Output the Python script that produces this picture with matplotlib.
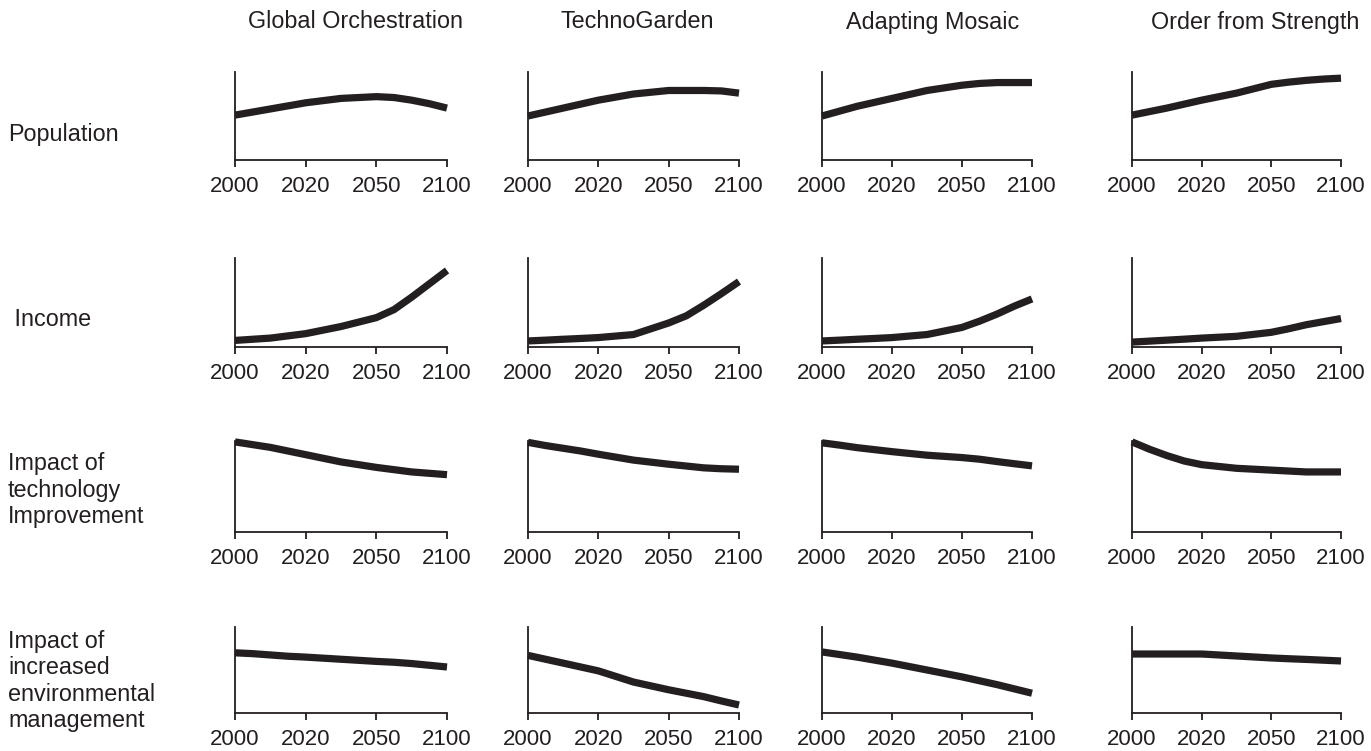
import matplotlib
matplotlib.use("Agg")
import matplotlib.pyplot as plt

# ---- data ----
scenarios = ["Global Orchestration", "TechnoGarden", "Adapting Mosaic", "Order from Strength"]
row_labels = ["Population", " Income", "Impact of\ntechnology\nImprovement",
              "Impact of\nincreased\nenvironmental\nmanagement"]
tick_labels = ["2000", "2020", "2050", "2100"]
tick_pos = [0, 1, 2, 3]

# positions along the (categorical) time axis
x_pos = [0, 0.25, 0.5, 0.75, 1, 1.5, 2, 2.25, 2.5, 2.75, 3]

# relative values (0 = x-axis, 1 = top of y-axis)
pop_go = [0.51, 0.545, 0.58, 0.615, 0.65, 0.70, 0.72, 0.71, 0.68, 0.64, 0.59]
pop_tg = [0.50, 0.545, 0.59, 0.635, 0.68, 0.75, 0.79, 0.79, 0.79, 0.785, 0.76]
pop_am = [0.50, 0.555, 0.61, 0.655, 0.70, 0.79, 0.85, 0.87, 0.88, 0.88, 0.88]
pop_os = [0.51, 0.55, 0.59, 0.635, 0.68, 0.76, 0.86, 0.885, 0.905, 0.92, 0.93]

inc_go = [0.074, 0.087, 0.10, 0.125, 0.15, 0.23, 0.33, 0.42, 0.56, 0.71, 0.86]
inc_tg = [0.068, 0.077, 0.087, 0.096, 0.106, 0.14, 0.27, 0.35, 0.47, 0.60, 0.735]
inc_am = [0.068, 0.077, 0.087, 0.096, 0.106, 0.14, 0.22, 0.29, 0.37, 0.46, 0.54]
inc_os = [0.055, 0.066, 0.077, 0.088, 0.10, 0.12, 0.165, 0.205, 0.25, 0.285, 0.32]

tech_go = [0.99, 0.96, 0.93, 0.89, 0.85, 0.77, 0.71, 0.685, 0.66, 0.645, 0.63]
tech_tg = [0.985, 0.95, 0.92, 0.89, 0.855, 0.79, 0.745, 0.725, 0.705, 0.695, 0.69]
tech_am = [0.98, 0.955, 0.927, 0.905, 0.883, 0.844, 0.818, 0.80, 0.774, 0.75, 0.727]
tech_os = [0.99, 0.91, 0.84, 0.78, 0.74, 0.70, 0.68, 0.67, 0.66, 0.66, 0.66]

env_go = [0.70, 0.69, 0.675, 0.66, 0.65, 0.625, 0.60, 0.59, 0.575, 0.555, 0.535]
env_tg = [0.67, 0.625, 0.58, 0.535, 0.49, 0.36, 0.27, 0.23, 0.19, 0.14, 0.093]
env_am = [0.71, 0.68, 0.65, 0.615, 0.58, 0.50, 0.42, 0.375, 0.33, 0.28, 0.23]
env_os = [0.686, 0.686, 0.686, 0.686, 0.686, 0.663, 0.64, 0.631, 0.623, 0.614, 0.605]

grid = [
    [pop_go, pop_tg, pop_am, pop_os],
    [inc_go, inc_tg, inc_am, inc_os],
    [tech_go, tech_tg, tech_am, tech_os],
    [env_go, env_tg, env_am, env_os],
]

# ---- layout (pixels) ----
W, H = 1371, 751
row_top = [72, 258, 441, 627]
row_bot = [160, 347, 532, 713]
col_left = [235, 528, 822, 1132]
col_right = [447, 739, 1032, 1341]
title_x = [356, 637, 933, 1255]
title_y = 22
label_x = [8, 8, 8, 8]
label_y = [134, 320, 490, 681]

plt.rcParams['font.family'] = ['Liberation Sans', 'DejaVu Sans']
ink = "#231f20"

fig = plt.figure(figsize=(W / 100, H / 100), dpi=100)

for r in range(4):
    for c in range(4):
        l = col_left[c] / W
        b = 1 - row_bot[r] / H
        w = (col_right[c] - col_left[c]) / W
        h = (row_bot[r] - row_top[r]) / H
        ax = fig.add_axes([l, b, w, h])
        ax.plot(x_pos, grid[r][c], color=ink, lw=5.2, solid_capstyle='butt',
                solid_joinstyle='round', clip_on=False)
        ax.set_xlim(0, 3)
        ax.set_ylim(0, 1)
        for s in ("top", "right"):
            ax.spines[s].set_visible(False)
        for s in ("left", "bottom"):
            ax.spines[s].set_linewidth(1.3)
            ax.spines[s].set_color(ink)
        ax.set_xticks(tick_pos)
        ax.set_xticklabels(tick_labels, fontsize=16, color=ink)
        ax.tick_params(axis='x', length=5, width=1.3, color=ink, pad=6.5)
        ax.set_yticks([])
        ax.patch.set_alpha(0)

for c in range(4):
    fig.text(title_x[c] / W, 1 - title_y / H, scenarios[c], fontsize=16.8,
             ha='center', va='center', color=ink)

for r in range(4):
    fig.text(label_x[r] / W, 1 - label_y[r] / H, row_labels[r], fontsize=16.8,
             ha='left', va='center', color=ink, linespacing=1.18)

fig.savefig("out.png", dpi=100, facecolor="white")
